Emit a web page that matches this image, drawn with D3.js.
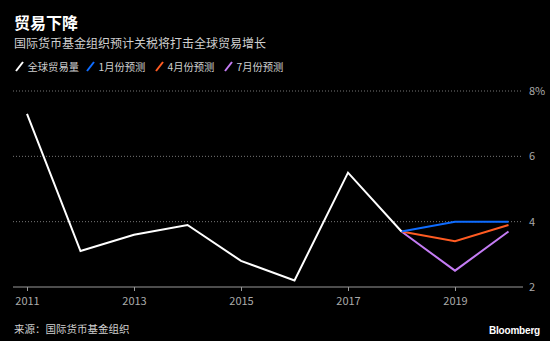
<!DOCTYPE html>
<html><head><meta charset="utf-8">
<script src="https://cdn.jsdelivr.net/npm/d3@7"></script>
<style>
html,body{margin:0;padding:0;background:#000;}
svg{display:block;font-family:"Noto Sans CJK SC","Noto Sans",sans-serif;}
</style></head>
<body><svg id="c" width="550" height="341"></svg>
<script>
const years = [2011,2012,2013,2014,2015,2016,2017,2018];
const tradeGrowth = [7.3,3.1,3.6,3.9,2.8,2.2,5.5,3.7];
const forecastYears = [2018,2019,2020];
const janForecast = [3.7,4.0,4.0];
const aprForecast = [3.7,3.4,3.9];
const julForecast = [3.7,2.5,3.7];
const xTicks = [2011,2013,2015,2017,2019];
const yTicks = [2,4,6,8];
const legendLabels = ["全球贸易量","1月份预测","4月份预测","7月份预测"];
const colors = ["#ffffff","#0e6cff","#ff5b22","#c47cf4"];

const svg = d3.select("#c");
const x = d3.scaleLinear().domain([2011,2020]).range([27,508.5]);
const y = d3.scaleLinear().domain([2,8]).range([287,91]);

svg.append("text").attr("x",14).attr("y",29).attr("fill","#fff")
  .attr("font-size",16).attr("font-weight","bold").text("贸易下降");
svg.append("text").attr("x",14).attr("y",48).attr("fill","#d0d0d0")
  .attr("font-size",12).text("国际货币基金组织预计关税将打击全球贸易增长");

// legend
const legX = [16,87,156,225];
legendLabels.forEach((l,i)=>{
  const g = svg.append("g").attr("transform",`translate(${legX[i]},0)`);
  g.append("line").attr("x1",0).attr("y1",71).attr("x2",7).attr("y2",62)
    .attr("stroke",colors[i]).attr("stroke-width",2);
  g.append("text").attr("x",11.5).attr("y",71).attr("fill","#d0d0d0")
    .attr("font-size",10.3).text(l);
});

// grid
yTicks.filter(t=>t>2).forEach(t=>{
  svg.append("line").attr("x1",13).attr("x2",523).attr("y1",y(t)).attr("y2",y(t))
    .attr("stroke","#777").attr("stroke-width",1).attr("stroke-dasharray","1,2");
});
yTicks.forEach(t=>{
  svg.append("text").attr("x",529).attr("y",y(t)+4).attr("fill","#aaa")
    .attr("font-size",11).text(t===8?"8%":t);
});

// x axis
const xa = svg.append("g").attr("transform",`translate(0,${y(2)})`)
  .call(d3.axisBottom(x).tickValues(xTicks).tickFormat(d3.format("d")).tickSize(4).tickPadding(6));
xa.select(".domain").remove();
xa.insert("line",":first-child").attr("x1",13).attr("x2",523).attr("stroke","#999");
xa.selectAll(".tick line").attr("stroke","#999");
xa.selectAll(".tick text").attr("fill","#aaa").attr("font-size",11)
  .attr("font-family","'Noto Sans CJK SC','Noto Sans',sans-serif");

const line = d3.line().x(d=>x(d[0])).y(d=>y(d[1]));
const series = [
  {xs:years, vs:tradeGrowth, c:colors[0]},
  {xs:forecastYears, vs:janForecast, c:colors[1]},
  {xs:forecastYears, vs:aprForecast, c:colors[2]},
  {xs:forecastYears, vs:julForecast, c:colors[3]},
];
series.slice().reverse().forEach(s=>{
  svg.append("path").datum(s.xs.map((yr,i)=>[yr,s.vs[i]]))
    .attr("d",line).attr("fill","none").attr("stroke",s.c).attr("stroke-width",2)
    .attr("stroke-linejoin","miter");
});

svg.append("text").attr("x",14).attr("y",333).attr("fill","#d0d0d0")
  .attr("font-size",10.5).text("来源：国际货币基金组织");
svg.append("text").attr("x",540).attr("y",334).attr("text-anchor","end").attr("fill","#fff")
  .attr("font-size",10).attr("font-weight","bold").attr("font-family","Arial,'Liberation Sans',sans-serif")
  .attr("letter-spacing","-0.2").text("Bloomberg");
</script></body></html>
